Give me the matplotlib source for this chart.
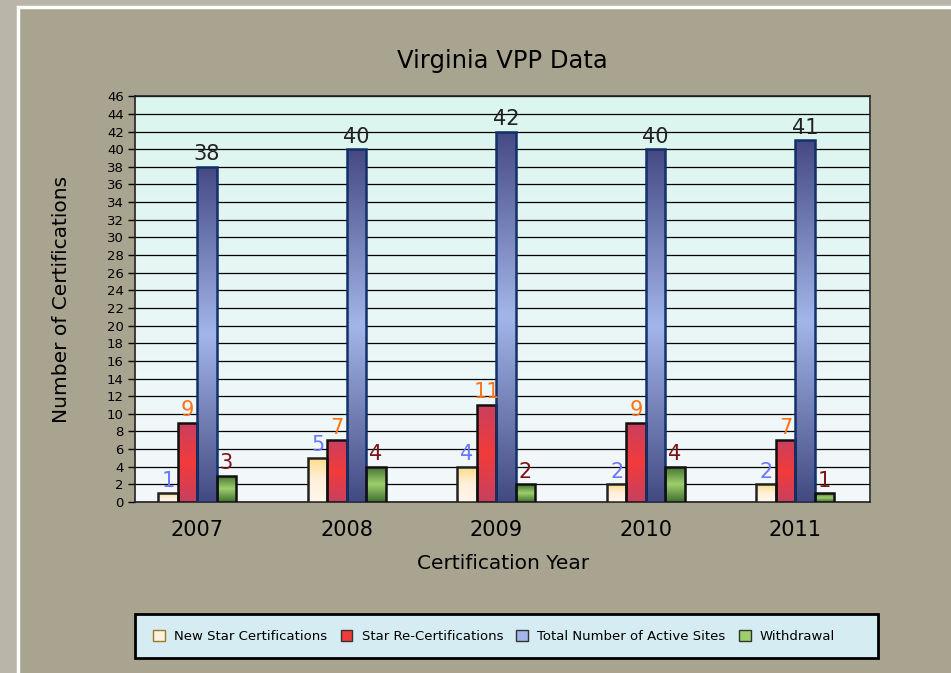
import numpy as np
import matplotlib
matplotlib.use("Agg")
import matplotlib.pyplot as plt
from matplotlib.colors import LinearSegmentedColormap
from matplotlib.patches import Rectangle, Patch

years = ["2007", "2008", "2009", "2010", "2011"]
new_star = [1, 5, 4, 2, 2]
re_cert = [9, 7, 11, 9, 7]
active = [38, 40, 42, 40, 41]
withdrawal = [3, 4, 2, 4, 1]

series = [
    ("New Star Certifications", new_star, ["#fddc85", "#fff0dc", "#fff6ec"], "#6a78ff", "#222222"),
    ("Star Re-Certifications", re_cert, ["#c8405e", "#f23b3b", "#c8405e"], "#ff7418", "#111111"),
    ("Total Number of Active Sites", active, ["#464a84", "#a3b6ea", "#434a82"], "#222222", "#12306a"),
    ("Withdrawal", withdrawal, ["#3f7030", "#9fcf6c", "#3f7030"], "#7a1414", "#111111"),
]

fig = plt.figure(figsize=(9.51, 6.73), dpi=100)
fig.patch.set_facecolor("#b9b6a9")

# background panel with white frame
fig.patches.append(Rectangle((0.019, -0.1), 1.2, 1.0896, transform=fig.transFigure,
                             facecolor="#a8a48f", edgecolor="white", linewidth=2.5, zorder=-10))

ax = fig.add_axes([0.142, 0.254, 0.773, 0.603])
ax.set_facecolor("none")

# plot area gradient
bg = LinearSegmentedColormap.from_list("bg", ["#f4f8fb", "#dbf5ef"])
ax.imshow(np.linspace(0, 1, 256).reshape(-1, 1), cmap=bg, aspect="auto",
          extent=[-0.415, 4.5, 0, 46], origin="lower", zorder=0)

x = np.arange(len(years))
w = 0.13
offsets = [-1.5 * w, -0.5 * w, 0.5 * w, 1.5 * w]

for (name, vals, cols, lab_col, edge), off in zip(series, offsets):
    cmap = LinearSegmentedColormap.from_list(name, cols[::-1])
    bars = ax.bar(x + off, vals, width=w, facecolor="none", edgecolor=edge,
                  linewidth=1.8, zorder=4)
    for b, v in zip(bars, vals):
        im = ax.imshow(np.linspace(0, 1, 128).reshape(-1, 1), cmap=cmap, aspect="auto",
                       origin="lower", extent=[b.get_x(), b.get_x() + w, 0, v], zorder=3)
        im.set_clip_path(b)
        ax.text(b.get_x() + w / 2, v + 0.3, str(v), ha="center", va="bottom",
                fontsize=15, color=lab_col, zorder=5)

ax.set_xlim(-0.415, 4.5)
ax.set_ylim(0, 46)
ax.set_yticks(range(0, 47, 2))
ax.yaxis.grid(True, color="black", linewidth=0.9)
for gl in ax.get_ygridlines():
    gl.set_zorder(1)
ax.set_xticks(x)
ax.set_xticklabels(years, fontsize=15)
ax.tick_params(axis="x", length=0, pad=13)
ax.tick_params(axis="y", labelsize=9.5, length=5, width=1, pad=3)
for s in ax.spines.values():
    s.set_color("#222222")
    s.set_linewidth(1.2)

ax.set_title("Virginia VPP Data", fontsize=17.5, pad=20)
ax.set_xlabel("Certification Year", fontsize=14.5, labelpad=10)
ax.set_ylabel("Number of Certifications", fontsize=14.5, labelpad=26)

# legend box
fig.patches.append(Rectangle((0.142, 0.022), 0.781, 0.065, transform=fig.transFigure,
                             facecolor="#d5edf2", edgecolor="black", linewidth=2, zorder=5))
handles = [Patch(facecolor=s[2][1], edgecolor="#333333", label=s[0]) for s in series]
handles[0] = Patch(facecolor="#fff1df", edgecolor="#9a7a20", label=series[0][0])
leg = fig.legend(handles=handles, loc="center left", ncol=4,
                 bbox_to_anchor=(0.161, 0.054), frameon=False,
                 fontsize=9.5, handlelength=0.9, handleheight=0.9, handletextpad=0.7,
                 borderaxespad=0, columnspacing=1.0, borderpad=0)
leg.set_zorder(6)

fig.savefig("out.png", dpi=100, facecolor=fig.get_facecolor())
